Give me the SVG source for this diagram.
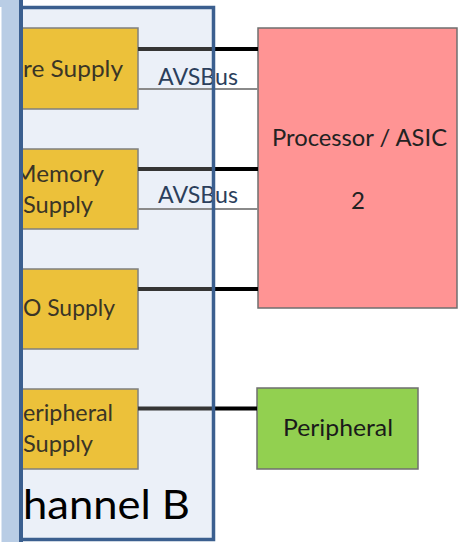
<svg xmlns="http://www.w3.org/2000/svg" width="460" height="542" viewBox="0 0 460 542">
<style>
  .t { font-family: Lato, "Liberation Sans", sans-serif; font-size: 24px; }
  .ytxt { fill: #3a3526; }
  .avs { fill: #2b3f5c; }
  .ybox { fill: #ecc13a; stroke: #7f7f7f; stroke-width: 1.5; }
  .thick-in { stroke: #353535; stroke-width: 4; }
  .thick-out { stroke: #000; stroke-width: 4; }
  .thin { stroke: #8a8a8a; stroke-width: 2; }
</style>
<rect x="0" y="0" width="460" height="542" fill="#ffffff"/>
<g id="channel-b-bg">
  <rect x="21" y="7.5" width="192.5" height="532" fill="#ebf0f8"/>
</g>
<g id="core-supply">
  <rect class="ybox" x="-21" y="28" width="159" height="81"/>
  <text class="t ytxt" x="23" y="77" textLength="100" lengthAdjust="spacingAndGlyphs">re Supply</text>
</g>
<g id="memory-supply">
  <rect class="ybox" x="-21" y="149" width="159" height="80"/>
  <text class="t ytxt" x="14" y="182" textLength="90" lengthAdjust="spacingAndGlyphs">Memory</text>
  <text class="t ytxt" x="23" y="213" textLength="70" lengthAdjust="spacingAndGlyphs">Supply</text>
</g>
<g id="io-supply">
  <rect class="ybox" x="-21" y="269" width="159" height="80"/>
  <text class="t ytxt" x="23" y="316" textLength="92" lengthAdjust="spacingAndGlyphs">O Supply</text>
</g>
<g id="peripheral-supply">
  <rect class="ybox" x="-21" y="389" width="159" height="80"/>
  <text class="t ytxt" x="23" y="421" textLength="90" lengthAdjust="spacingAndGlyphs">eripheral</text>
  <text class="t ytxt" x="23" y="452" textLength="70" lengthAdjust="spacingAndGlyphs">Supply</text>
</g>
<g id="processor">
  <rect x="258" y="28" width="199" height="280" fill="#ff9494" stroke="#6f6f6f" stroke-width="1.5"/>
  <text class="t" fill="#222" x="359.5" y="146" text-anchor="middle" textLength="175" lengthAdjust="spacingAndGlyphs">Processor / ASIC</text>
  <text class="t" fill="#222" x="358" y="209" text-anchor="middle">2</text>
</g>
<g id="peripheral">
  <rect x="257" y="388" width="161" height="81" fill="#92d050" stroke="#6f6f6f" stroke-width="1.5"/>
  <text class="t" fill="#1a1a1a" x="338" y="436" text-anchor="middle" textLength="110" lengthAdjust="spacingAndGlyphs">Peripheral</text>
</g>
<g id="connectors">
  <line class="thick-in" x1="138" y1="49" x2="213" y2="49"/>
  <line class="thick-out" x1="213" y1="49" x2="258" y2="49"/>
  <line class="thin" x1="138" y1="89" x2="258" y2="89"/>
  <line class="thick-in" x1="138" y1="169" x2="213" y2="169"/>
  <line class="thick-out" x1="213" y1="169" x2="258" y2="169"/>
  <line class="thin" x1="138" y1="209" x2="258" y2="209"/>
  <line class="thick-in" x1="138" y1="289" x2="213" y2="289"/>
  <line class="thick-out" x1="213" y1="289" x2="258" y2="289"/>
  <line class="thick-in" x1="138" y1="408.5" x2="213" y2="408.5"/>
  <line class="thick-out" x1="213" y1="408.5" x2="257" y2="408.5"/>
  <text class="t avs" x="158" y="85" textLength="80" lengthAdjust="spacingAndGlyphs">AVSBus</text>
  <text class="t avs" x="158" y="203" textLength="80" lengthAdjust="spacingAndGlyphs">AVSBus</text>
</g>
<g id="channel-b">
  <text font-family="Lato, 'Liberation Sans', sans-serif" font-size="40" fill="#000" x="23" y="519" textLength="167" lengthAdjust="spacingAndGlyphs">hannel B</text>
  <path d="M21 7.5 H213.5 V539.5 H21" fill="none" stroke="#3b5f8f" stroke-width="3.5"/>
</g>
<g id="left-strip">
  <rect x="0" y="0" width="19" height="542" fill="#b9cde5"/>
  <rect x="0" y="7" width="1.5" height="535" fill="#ffffff"/>
  <rect x="19" y="0" width="4" height="542" fill="#3b5f8f"/>
</g>
</svg>
